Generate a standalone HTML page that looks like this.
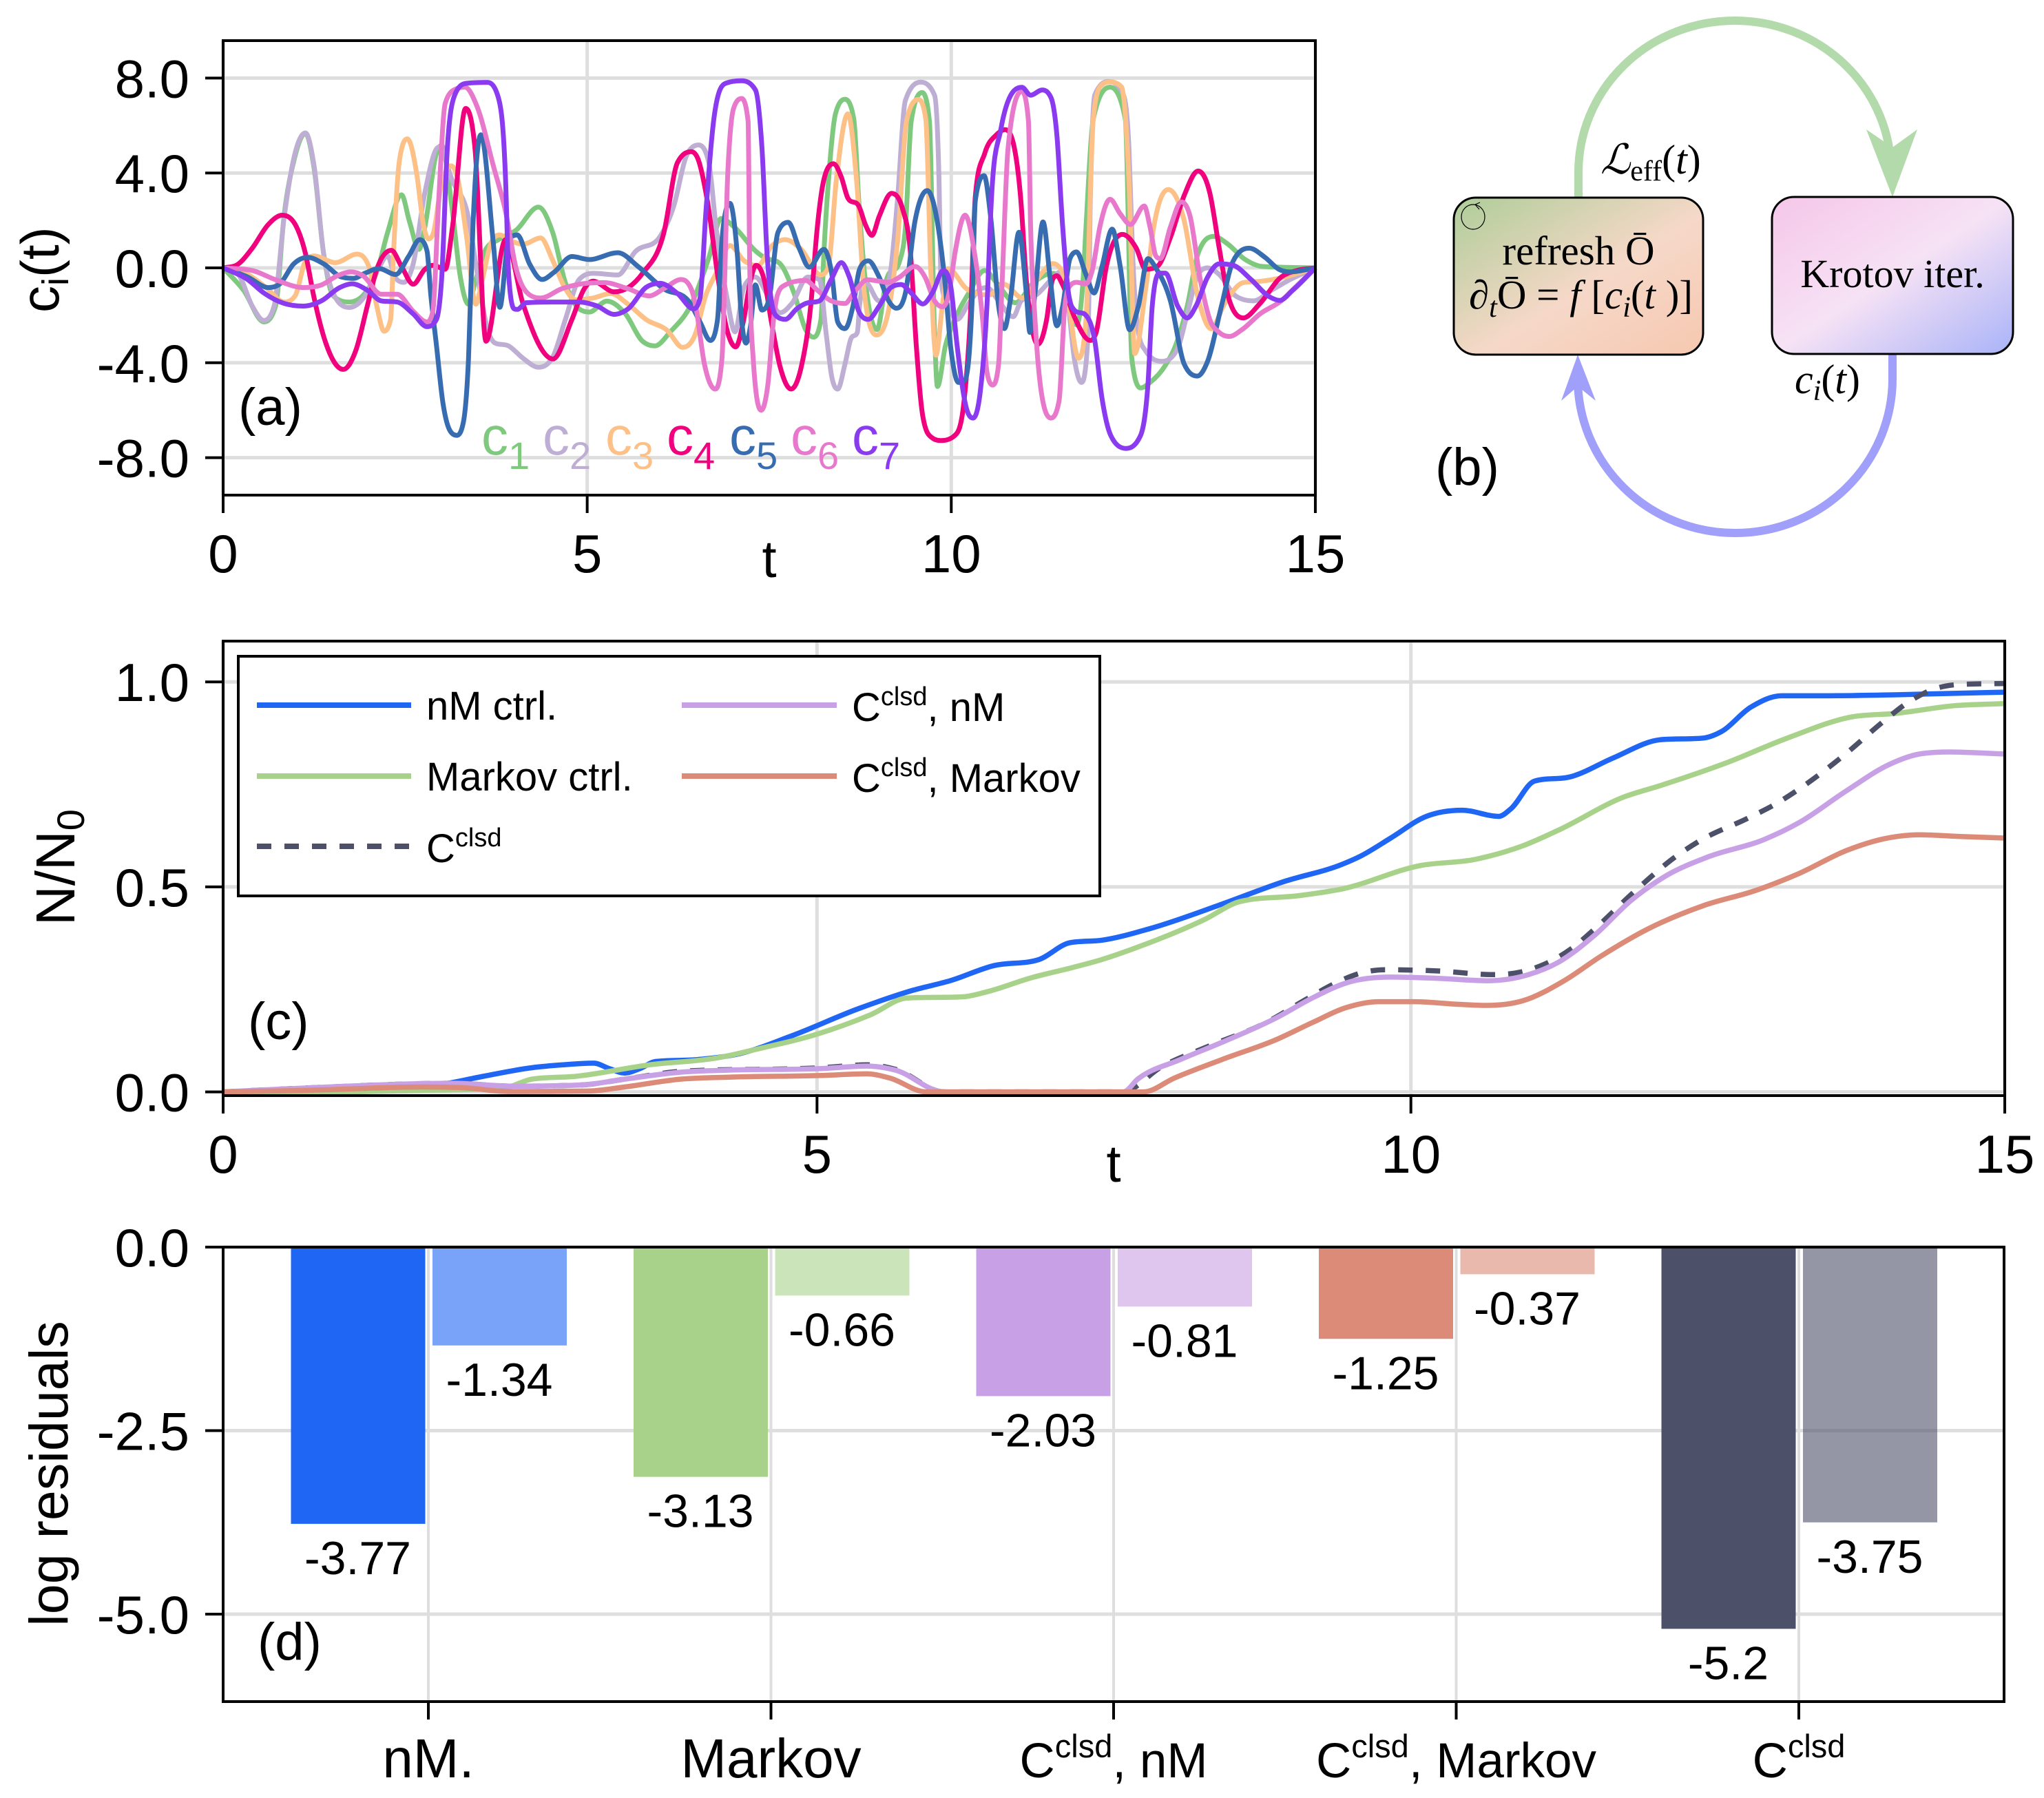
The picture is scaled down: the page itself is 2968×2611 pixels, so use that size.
<!DOCTYPE html>
<html lang="en">
<head>
<meta charset="utf-8">
<title>Control pulses, populations and residuals</title>
<style>
html,body{margin:0;padding:0;background:#fff}
svg{display:block}
text{font-family:"Liberation Sans",sans-serif;fill:#000}
.serif{font-family:"Liberation Serif",serif}
</style>
</head>
<body>
<svg id="fig" xmlns="http://www.w3.org/2000/svg" width="2968" height="2611" viewBox="0 0 2968 2611">
  <defs>
    <linearGradient id="gradLeft" x1="0" y1="0" x2="1" y2="1">
      <stop offset="0" stop-color="#AECD98"/><stop offset="0.55" stop-color="#F6D8C8"/><stop offset="1" stop-color="#F6C8B0"/>
    </linearGradient>
    <linearGradient id="gradRight" x1="0" y1="0" x2="1" y2="1">
      <stop offset="0" stop-color="#F5C6E9"/><stop offset="0.5" stop-color="#F6E2F5"/><stop offset="1" stop-color="#A9B3F8"/>
    </linearGradient>
  </defs>
  <rect x="0" y="0" width="2968" height="2611" fill="#fff"/>
  <g id="gridLayer"></g>
  <g id="markLayer"></g>
  <g id="axisLayer"></g>

  <!-- panel a labels -->
  <text x="346" y="617" font-size="76">(a)</text>
  <text x="1117" y="838" font-size="76" text-anchor="middle">t</text>
  <text transform="translate(85,454) rotate(-90)" font-size="78">c<tspan font-size="54" dy="14">i</tspan><tspan dy="-14">(t)</tspan></text>
  <g font-size="78">
    <text x="699" y="660" style="fill:#7FC97F">c<tspan font-size="56" dy="21">1</tspan></text>
    <text x="788" y="660" style="fill:#BEAED4">c<tspan font-size="56" dy="21">2</tspan></text>
    <text x="879" y="660" style="fill:#FDC086">c<tspan font-size="56" dy="21">3</tspan></text>
    <text x="968" y="660" style="fill:#F0027F">c<tspan font-size="56" dy="21">4</tspan></text>
    <text x="1059" y="660" style="fill:#386CB0">c<tspan font-size="56" dy="21">5</tspan></text>
    <text x="1148" y="660" style="fill:#E878CC">c<tspan font-size="56" dy="21">6</tspan></text>
    <text x="1237" y="660" style="fill:#8A3BF0">c<tspan font-size="56" dy="21">7</tspan></text>
  </g>

  <!-- panel b diagram -->
  <g>
    <path d="M2292 287 L2292 250 A227 220 0 0 1 2746 250" fill="none" stroke="#B3DAAA" stroke-width="12"/>
    <polygon points="2748,286 2784,188 2748,214 2710,188" fill="#B3DAAA"/>
    <path d="M2748 514 L2748 550 A228.5 224 0 0 1 2291 550" fill="none" stroke="#A0A0FB" stroke-width="12"/>
    <polygon points="2291,515 2317,582 2291,561 2267,582" fill="#A0A0FB"/>
    <rect x="2111" y="287" width="362" height="228" rx="32" ry="32" fill="url(#gradLeft)" stroke="#000" stroke-width="3"/>
    <rect x="2573" y="286" width="350" height="228" rx="32" ry="32" fill="url(#gradRight)" stroke="#000" stroke-width="3"/>
    <ellipse cx="2139" cy="315" rx="17" ry="18" fill="none" stroke="#000" stroke-width="1.2"/>
    <path d="M2142 297 L2149 294 M2142 297 L2148 304" fill="none" stroke="#000" stroke-width="1.2"/>
    <text class="serif" x="2292" y="384" font-size="59" text-anchor="middle">refresh Ō</text>
    <text class="serif" x="2133" y="448" font-size="59"><tspan font-style="italic">∂</tspan><tspan font-style="italic" font-size="42" dy="12">t</tspan><tspan dy="-12">Ō = </tspan><tspan font-style="italic">f</tspan><tspan> [</tspan><tspan font-style="italic">c</tspan><tspan font-style="italic" font-size="42" dy="12">i</tspan><tspan dy="-12">(</tspan><tspan font-style="italic">t</tspan><tspan> )]</tspan></text>
    <text class="serif" x="2748" y="417" font-size="58" text-anchor="middle">Krotov iter.</text>
    <text class="serif" x="2324" y="252" font-size="60"><tspan font-style="italic">ℒ</tspan><tspan font-size="42" dy="10">eff</tspan><tspan dy="-10">(</tspan><tspan font-style="italic">t</tspan><tspan>)</tspan></text>
    <text class="serif" x="2606" y="571" font-size="60"><tspan font-style="italic">c</tspan><tspan font-style="italic" font-size="42" dy="10">i</tspan><tspan dy="-10">(</tspan><tspan font-style="italic">t</tspan><tspan>)</tspan></text>
    <text x="2084" y="704" font-size="76">(b)</text>
  </g>

  <!-- panel c labels -->
  <text x="360" y="1509" font-size="76">(c)</text>
  <text x="1617" y="1716" font-size="76" text-anchor="middle">t</text>
  <text transform="translate(108,1344) rotate(-90)" font-size="80">N/N<tspan font-size="56" dy="14">0</tspan></text>

  <!-- legend -->
  <g>
    <rect x="346" y="953" width="1251" height="348" fill="#fff" stroke="#000" stroke-width="4"/>
    <line x1="373" y1="1024" x2="597" y2="1024" stroke="#1F66F5" stroke-width="8"/>
    <text x="619" y="1045" font-size="58">nM ctrl.</text>
    <line x1="373" y1="1127" x2="597" y2="1127" stroke="#A8D28A" stroke-width="8"/>
    <text x="619" y="1148" font-size="58">Markov ctrl.</text>
    <line x1="373" y1="1229" x2="597" y2="1229" stroke="#4C5069" stroke-width="8" stroke-dasharray="21 19"/>
    <text x="619" y="1252" font-size="58">C<tspan font-size="38" dy="-23">clsd</tspan></text>
    <line x1="990" y1="1024" x2="1215" y2="1024" stroke="#C8A0E5" stroke-width="8"/>
    <text x="1237" y="1047" font-size="58">C<tspan font-size="38" dy="-23">clsd</tspan><tspan dy="23">, nM</tspan></text>
    <line x1="990" y1="1127" x2="1215" y2="1127" stroke="#DB8B78" stroke-width="8"/>
    <text x="1237" y="1150" font-size="58">C<tspan font-size="38" dy="-23">clsd</tspan><tspan dy="23">, Markov</tspan></text>
  </g>

  <!-- panel d labels -->
  <text x="374" y="2410" font-size="76">(d)</text>
  <text transform="translate(98,2140) rotate(-90)" font-size="79" text-anchor="middle">log residuals</text>
</svg>
<script>
// ---------- panel (a): control pulses, [t, c(t)] ----------
const c1Points=[[0,0],[.28,-.94],[.56,-2.28],[.72,-1.61],[.84,2.28],[.97,4.5],[1.13,5.67],[1.25,4.17],[1.38,.61],[1.51,-1.17],[1.73,-1.44],[1.95,-1.06],[2.11,-.17],[2.26,1.5],[2.45,3.08],[2.56,1.94],[2.69,.78],[2.77,1.72],[2.93,4.83],[3.0,5.17],[3.15,2.36],[3.25,-.23],[3.37,-1.53],[3.47,-.49],[3.59,.68],[3.78,1.19],[4.02,1.58],[4.33,2.56],[4.53,1.45],[4.7,-.62],[4.89,-1.73],[5.03,-1.86],[5.27,-1.4],[5.52,-1.92],[5.76,-3.09],[5.93,-3.29],[6.14,-2.7],[6.43,-1.53],[6.67,.42],[6.84,2.08],[7.02,1.72],[7.31,.72],[7.43,.44],[7.65,.17],[7.84,-1.06],[8.0,-2.6],[8.11,-2.92],[8.21,-2.17],[8.25,.6],[8.32,3.94],[8.41,6.5],[8.54,7.11],[8.66,6.3],[8.73,2.83],[8.79,.39],[8.98,-2.6],[9.11,-.5],[9.29,.28],[9.37,1.7],[9.45,6.17],[9.6,7.39],[9.7,6.17],[9.77,-2.72],[9.81,-5.0],[9.92,-3.28],[10.05,-2.17],[10.24,-1.06],[10.46,-.11],[10.62,-.62],[10.88,-1.47],[11.13,-.62],[11.39,-.23],[11.6,-1.01],[11.72,-2.4],[11.81,-.5],[11.85,1.72],[11.95,6.26],[12.18,7.62],[12.39,6.26],[12.48,-3.83],[12.6,-5.06],[12.73,-4.83],[12.95,-4.06],[13.08,-3.28],[13.24,-1.61],[13.39,.61],[13.6,1.33],[13.8,1.0],[14.02,.39],[14.27,.06],[14.52,.03],[15,0]];
const c2Points=[[0,0],[.21,-.28],[.4,-1.61],[.56,-2.22],[.7,-1.61],[.84,2.17],[.97,4.61],[1.13,5.69],[1.25,4.28],[1.38,.61],[1.51,-1.06],[1.73,-1.67],[1.95,-1.17],[2.11,-.17],[2.26,.5],[2.36,-.39],[2.48,-.61],[2.61,.17],[2.77,3.17],[2.96,5.09],[3.15,3.66],[3.37,2.1],[3.49,-.23],[3.63,-2.57],[3.73,-3.16],[3.92,-3.29],[4.12,-3.81],[4.33,-4.19],[4.53,-3.74],[4.7,-2.18],[4.89,-.49],[5.08,-.23],[5.42,-.3],[5.66,.68],[6.0,1.32],[6.19,2.62],[6.36,4.7],[6.53,5.18],[6.67,4.44],[6.77,1.71],[6.92,-1.27],[7.03,-2.7],[7.15,-.83],[7.31,-.39],[7.5,-1.28],[7.65,-1.89],[7.81,-1.5],[8.03,-.39],[8.19,-.5],[8.28,-2.72],[8.36,-4.61],[8.44,-5.11],[8.54,-4.06],[8.62,-3.0],[8.71,-2.72],[8.74,-1.61],[8.82,-.61],[9.01,-1.39],[9.17,-.06],[9.26,2.83],[9.37,7.06],[9.58,7.83],[9.77,7.28],[9.83,3.94],[9.86,-.5],[9.96,-1.61],[10.08,-2.17],[10.24,-1.5],[10.4,-.89],[10.49,-.83],[10.65,-1.39],[10.85,-2.06],[10.96,-1.39],[11.18,-1.11],[11.37,-.5],[11.5,-.17],[11.6,-1.39],[11.69,-3.83],[11.79,-4.83],[11.88,-2.72],[11.91,2.83],[11.97,7.28],[12.16,7.86],[12.35,7.39],[12.44,5.06],[12.49,.61],[12.56,-2.5],[12.67,-3.5],[12.89,-3.94],[13.11,-3.39],[13.24,-1.94],[13.39,-.28],[13.52,0],[13.68,-.28],[13.9,-1.17],[14.15,-1.39],[14.4,-.94],[14.65,-.5],[15,0]];
const c3Points=[[0,0],[.34,-.28],[.59,-.83],[.84,-1.44],[.99,-1.17],[1.13,.28],[1.25,.5],[1.54,.22],[1.84,.58],[2.0,.06],[2.11,-1.61],[2.21,-2.67],[2.3,-2.17],[2.34,.61],[2.42,4.5],[2.53,5.44],[2.66,3.94],[2.75,1.83],[2.82,1.22],[2.89,1.5],[2.99,3.39],[3.13,4.3],[3.21,3.9],[3.34,1.4],[3.47,-1.53],[3.56,-.49],[3.68,1.06],[3.8,1.39],[3.92,1.19],[4.12,1.0],[4.36,1.26],[4.53,.29],[4.7,-.88],[4.84,-1.34],[5.08,-1.27],[5.32,-1.08],[5.56,-1.53],[5.81,-2.18],[6.1,-2.64],[6.31,-3.35],[6.48,-2.83],[6.63,-1.14],[6.77,-.23],[6.96,.94],[7.16,.29],[7.34,.09],[7.54,.94],[7.72,1.19],[7.93,.81],[8.21,-.3],[8.31,.03],[8.42,3.66],[8.58,6.49],[8.7,3.66],[8.8,-.88],[8.97,-2.83],[9.13,-1.92],[9.26,1.06],[9.39,6.26],[9.55,7.1],[9.65,6.26],[9.72,-.23],[9.79,-3.68],[9.88,-1.53],[9.96,-.04],[10.21,-.88],[10.52,-1.14],[10.72,-.69],[10.98,-1.27],[11.24,-.23],[11.39,.18],[11.55,-.36],[11.75,-3.81],[11.85,-2.18],[11.95,6.26],[12.06,7.69],[12.18,7.84],[12.34,7.62],[12.44,3.66],[12.52,-3.61],[12.67,-.88],[12.78,1.71],[12.98,3.3],[13.19,2.1],[13.39,-1.27],[13.57,-2.57],[13.75,-1.53],[14.01,-.62],[14.26,-.56],[14.52,-.43],[15,0]];
const c4Points=[[0,0],[.18,.11],[.4,.83],[.62,1.83],[.81,2.22],[.99,1.83],[1.13,.61],[1.25,-1.28],[1.41,-3.17],[1.65,-4.28],[1.82,-3.5],[1.98,-1.61],[2.11,-.06],[2.31,.74],[2.45,.06],[2.61,-.69],[2.77,-.06],[2.88,.11],[3.05,-.06],[3.15,1.72],[3.33,6.72],[3.46,5.0],[3.61,-3.09],[3.88,1.19],[4.12,-1.53],[4.53,-3.84],[4.79,-2.18],[4.96,-.88],[5.08,-.56],[5.37,-1.01],[5.76,-.23],[6.05,1.45],[6.24,4.44],[6.43,4.9],[6.52,4.6],[6.65,2.83],[6.8,-.5],[6.91,-2.5],[7.04,-3.33],[7.15,-2.17],[7.23,-.72],[7.32,.11],[7.43,-.5],[7.53,-2.28],[7.65,-4.17],[7.8,-5.11],[7.94,-4.17],[8.07,-1.6],[8.16,1.72],[8.25,3.72],[8.38,4.39],[8.49,3.83],[8.58,2.94],[8.73,2.61],[8.82,1.83],[8.91,1.37],[9.01,2.17],[9.18,3.14],[9.33,2.5],[9.44,.61],[9.52,-3.28],[9.61,-6.28],[9.74,-7.17],[9.86,-7.28],[10.05,-7.06],[10.18,-5.5],[10.27,-1.6],[10.33,3.0],[10.46,4.83],[10.62,5.61],[10.74,5.83],[10.85,5.28],[10.95,3.06],[11.03,-.5],[11.19,-3.22],[11.31,-2.17],[11.39,-.5],[11.45,-.33],[11.53,-.72],[11.69,-2.06],[11.91,-3.06],[11.99,-2.72],[12.13,.06],[12.35,1.41],[12.54,.83],[12.67,-.06],[12.83,.06],[13.01,1.28],[13.2,3.06],[13.39,4.08],[13.55,3.17],[13.68,.83],[13.8,-1.17],[14.01,-2.11],[14.24,-1.5],[14.53,-.39],[14.75,-.11],[15,0]];
const c5Points=[[0,0],[.34,-.39],[.62,-.83],[.78,-.67],[.97,.17],[1.16,.44],[1.38,.17],[1.63,-.39],[1.79,-.44],[1.95,-.22],[2.14,-.03],[2.37,-.28],[2.55,.5],[2.7,1.19],[2.8,.72],[2.85,-1.06],[2.93,-3.28],[3.02,-5.72],[3.11,-6.83],[3.21,-7.06],[3.3,-6.5],[3.37,-3.83],[3.43,1.72],[3.54,5.61],[3.71,1.06],[3.8,-1.66],[3.92,1.19],[4.04,1.39],[4.21,.16],[4.38,-.49],[4.55,-.17],[4.79,.48],[5.03,.35],[5.42,.64],[5.71,.03],[6.05,-.88],[6.39,-1.39],[6.55,-2.28],[6.69,-3.06],[6.79,-2.17],[6.85,1.17],[6.96,2.72],[7.06,.61],[7.12,-2.17],[7.18,-3.17],[7.24,-2.5],[7.31,-.72],[7.4,-1.78],[7.5,-1.28],[7.62,1.5],[7.76,1.92],[7.91,.83],[8.05,.03],[8.25,.78],[8.36,-.28],[8.44,-2.28],[8.54,-2.56],[8.65,-1.61],[8.74,-.06],[8.86,.3],[9.01,-.39],[9.14,-1.39],[9.25,-1.7],[9.37,-1.06],[9.5,1.94],[9.67,3.26],[9.82,1.72],[9.91,-.5],[9.99,-3.28],[10.1,-4.83],[10.19,-4.72],[10.29,-1.06],[10.33,2.83],[10.45,3.89],[10.54,2.17],[10.65,-1.6],[10.73,-2.56],[10.81,-1.39],[10.93,1.5],[11.03,-1.06],[11.08,-2.72],[11.15,-1.06],[11.26,1.94],[11.36,-.5],[11.45,-2.44],[11.53,-1.61],[11.63,.39],[11.72,.67],[11.85,-.28],[11.96,-1.06],[12.07,.06],[12.21,1.63],[12.32,.06],[12.45,-2.61],[12.57,-1.61],[12.7,.39],[12.82,-.06],[13.01,-1.39],[13.2,-4.06],[13.38,-4.56],[13.52,-3.94],[13.71,-1.61],[13.87,.28],[14.09,.83],[14.31,.44],[14.5,-.06],[14.65,-.17],[15,0]];
const c6Points=[[0,0],[.4,-.11],[.72,-.5],[1.1,-.83],[1.35,-.72],[1.57,-.33],[1.76,-.17],[1.92,-.33],[2.17,-1.11],[2.39,-1.11],[2.61,-1.83],[2.8,-2.28],[2.88,-1.83],[2.96,2.83],[3.05,6.94],[3.21,7.56],[3.32,7.62],[3.49,6.78],[3.71,4.31],[3.88,2.36],[4.02,.03],[4.21,-1.14],[4.36,-1.27],[4.65,-.88],[4.89,-.69],[5.23,-.62],[5.56,-.88],[5.85,-1.18],[6.05,-.88],[6.29,-.49],[6.43,-.9],[6.49,-1.61],[6.61,-4.06],[6.76,-5.11],[6.85,-3.83],[6.93,3.94],[7.01,6.72],[7.12,7.14],[7.21,6.17],[7.23,.61],[7.28,-3.83],[7.39,-6.0],[7.48,-4.94],[7.56,-2.17],[7.61,-1.17],[7.72,-.72],[8.0,-.53],[8.16,-.94],[8.35,-1.39],[8.54,-1.5],[8.66,-1.06],[8.85,-.5],[9.14,-.61],[9.29,-.39],[9.5,.06],[9.64,-.39],[9.77,-1.39],[9.88,-1.64],[9.97,-1.06],[10.05,.61],[10.19,2.22],[10.32,.61],[10.43,-2.17],[10.49,-4.39],[10.57,-4.94],[10.65,-4.06],[10.7,-.5],[10.78,5.06],[10.97,7.44],[11.06,6.17],[11.09,1.72],[11.15,-2.17],[11.25,-5.5],[11.37,-6.33],[11.48,-5.61],[11.56,-1.61],[11.64,-.72],[11.72,-.61],[11.85,-.67],[11.94,-.06],[12.04,1.72],[12.18,2.89],[12.32,2.28],[12.46,1.83],[12.65,2.61],[12.73,1.72],[12.81,.5],[12.87,.39],[13.01,1.72],[13.16,2.78],[13.28,2.17],[13.42,-.5],[13.55,-2.17],[13.68,-2.72],[13.82,-2.89],[13.99,-2.61],[14.24,-1.94],[14.53,-1.39],[14.72,-.83],[15,0]];
const c7Points=[[0,0],[.34,-.5],[.56,-1.06],[.84,-1.5],[1.1,-1.61],[1.35,-1.39],[1.6,-.83],[1.77,-.67],[1.98,-.94],[2.17,-1.39],[2.39,-1.44],[2.61,-1.94],[2.8,-2.48],[2.93,-2.17],[3.0,-.5],[3.08,5.06],[3.18,7.28],[3.34,7.78],[3.63,7.82],[3.78,7.17],[3.88,3.66],[3.92,-.23],[4.0,-1.73],[4.04,-1.75],[4.16,-1.47],[4.5,-1.44],[4.89,-1.44],[5.13,-1.6],[5.37,-1.96],[5.56,-1.73],[5.81,-.82],[6.0,-.65],[6.24,-1.08],[6.46,-1.73],[6.55,-1.27],[6.63,2.36],[6.75,6.52],[6.9,7.78],[7.12,7.89],[7.31,7.5],[7.4,5.06],[7.47,.61],[7.53,-1.39],[7.61,-2.06],[7.72,-2.17],[7.88,-1.72],[8.0,-1.5],[8.19,-1.39],[8.35,-.5],[8.49,.22],[8.6,-.39],[8.73,-1.83],[8.86,-2.17],[9.01,-1.61],[9.17,-.83],[9.31,-.7],[9.45,-1.06],[9.61,-1.52],[9.74,-1.06],[9.89,-.11],[9.99,-.72],[10.08,-3.28],[10.21,-5.94],[10.3,-6.33],[10.4,-5.17],[10.49,-1.61],[10.55,2.83],[10.68,5.83],[10.84,7.39],[10.97,7.61],[11.09,7.28],[11.25,7.5],[11.37,7.17],[11.45,5.61],[11.53,1.72],[11.61,-1.06],[11.69,-1.78],[11.85,-2.0],[11.97,-3.06],[12.07,-5.5],[12.19,-7.06],[12.4,-7.61],[12.6,-7.06],[12.7,-4.94],[12.76,-1.61],[12.86,-.22],[12.94,-.22],[13.11,-1.61],[13.24,-2.11],[13.36,-1.61],[13.52,-.39],[13.68,.17],[13.87,.11],[14.12,-.5],[14.37,-1.22],[14.51,-1.37],[14.69,-.94],[15,0]];
const pulseNames=['c1','c2','c3','c4','c5','c6','c7'];
const pulseSeries=[c1Points,c2Points,c3Points,c4Points,c5Points,c6Points,c7Points];
const pulseXTicks=[0,5,10,15];
const pulseYTicks=[8,4,0,-4,-8];
const pulseYTickLabels=['8.0','4.0','0.0','-4.0','-8.0'];

// ---------- panel (c): population, [t, N/N0] ----------
const nmCtrlPoints=[[0,0],[.64,.003],[1.41,.01],[1.83,.018],[2.19,.038],[2.6,.059],[2.86,.066],[3.12,.07],[3.25,.057],[3.38,.046],[3.51,.057],[3.64,.074],[4.0,.079],[4.36,.094],[4.78,.136],[5.35,.203],[5.81,.248],[6.12,.271],[6.49,.308],[6.87,.323],[7.13,.364],[7.4,.37],[7.8,.398],[8.41,.458],[8.92,.512],[9.42,.555],[9.57,.574],[9.83,.619],[10.13,.672],[10.43,.687],[10.74,.672],[10.84,.69],[11.04,.758],[11.35,.769],[11.7,.814],[12.1,.859],[12.46,.863],[12.61,.878],[12.86,.938],[13.12,.966],[13.47,.966],[14.13,.969],[15,.975]];
const markovCtrlPoints=[[0,0],[.9,0],[1.67,.004],[2.34,.008],[2.6,.031],[2.97,.038],[3.59,.066],[4.16,.083],[4.52,.106],[4.98,.139],[5.45,.188],[5.76,.229],[6.23,.232],[6.43,.244],[6.8,.278],[7.16,.304],[7.4,.323],[7.7,.353],[8.26,.42],[8.56,.464],[9.07,.479],[9.42,.495],[10.08,.552],[10.54,.567],[10.94,.6],[11.24,.638],[11.8,.72],[12.1,.747],[12.66,.803],[13.17,.863],[13.72,.915],[14.08,.923],[14.58,.942],[15,.947]];
const closedPoints=[[0,0],[.74,.01],[1.93,.021],[2.45,.014],[3.02,.017],[3.38,.031],[3.85,.05],[5.04,.059],[5.42,.066],[5.66,.055],[6.07,0],[7.57,0],[7.9,.061],[8.31,.113],[8.76,.166],[9.12,.226],[9.35,.263],[9.57,.289],[9.78,.298],[10.23,.295],[10.69,.286],[10.99,.297],[11.35,.349],[11.55,.398],[11.88,.488],[12.23,.574],[12.43,.612],[12.84,.668],[13.07,.702],[13.27,.739],[13.65,.822],[13.98,.904],[14.18,.949],[14.41,.983],[14.63,.994],[15,.996]];
const closedNmPoints=[[0,0],[.74,.01],[1.93,.021],[2.45,.014],[3.02,.017],[3.38,.031],[3.85,.048],[4.26,.053],[5.04,.057],[5.42,.063],[5.66,.053],[6.07,0],[7.58,0],[7.7,.031],[8.06,.079],[8.41,.121],[8.87,.181],[9.17,.229],[9.47,.267],[9.83,.28],[10.23,.277],[10.64,.271],[10.99,.286],[11.24,.316],[11.55,.383],[11.85,.466],[12.16,.529],[12.51,.574],[12.97,.615],[13.27,.657],[13.67,.735],[14.03,.799],[14.28,.824],[14.53,.829],[15,.824]];
const closedMarkovPoints=[[0,0],[.74,.004],[1.67,.012],[2.03,.01],[2.4,.001],[3.07,.002],[3.38,.012],[3.85,.031],[4.26,.036],[5.04,.04],[5.42,.044],[5.61,.034],[5.92,0],[7.75,0],[8.01,.034],[8.41,.079],[8.87,.128],[9.17,.169],[9.47,.207],[9.73,.22],[10.03,.22],[10.38,.214],[10.64,.211],[10.94,.222],[11.29,.271],[11.6,.331],[12.0,.398],[12.46,.454],[12.91,.492],[13.27,.533],[13.67,.589],[13.98,.617],[14.28,.627],[14.63,.623],[15,.619]];
const popXTicks=[0,5,10,15];
const popYTicks=[1,.5,0];
const popYTickLabels=['1.0','0.5','0.0'];

// ---------- panel (d): residual bars ----------
const residualCategories=['nM.','Markov','Cclsd, nM','Cclsd, Markov','Cclsd'];
const residualFirst=[-3.77,-3.13,-2.03,-1.25,-5.2];
const residualSecond=[-1.34,-.66,-.81,-.37,-3.75];
const residualYTicks=[0,-2.5,-5];
const residualYTickLabels=['0.0','-2.5','-5.0'];

// ---------- axis functions ----------
const xA=t=>324+105.73*t;
const yA=v=>389-34.45*v;
const xC=t=>324+172.47*t;
const yC=v=>1585.6-595.4*v;
const xD=i=>622+497.5*i;
const yD=v=>1811-106.6*v;

const NS='http://www.w3.org/2000/svg';
const gridLayer=document.getElementById('gridLayer');
const markLayer=document.getElementById('markLayer');
const axisLayer=document.getElementById('axisLayer');
function mk(tag,parent){const el=document.createElementNS(NS,tag);parent.appendChild(el);return el;}
function setLine(el,x1,y1,x2,y2,color,w){el.setAttribute('x1',x1);el.setAttribute('y1',y1);el.setAttribute('x2',x2);el.setAttribute('y2',y2);el.setAttribute('stroke',color);el.setAttribute('stroke-width',w);}
function setText(el,x,y,size,anchor,str){el.setAttribute('x',x);el.setAttribute('y',y);el.setAttribute('font-size',size);el.setAttribute('text-anchor',anchor);el.textContent=str;}
// shape-preserving cubic: weighted central slopes, zero at extrema, clamped against overshoot
function smoothPath(pts){
  const n=pts.length,m=[],s=[];
  for(let i=0;i<n-1;i++){s[i]=(pts[i+1][1]-pts[i][1])/(pts[i+1][0]-pts[i][0]);}
  m[0]=s[0];m[n-1]=s[n-2];
  for(let i=1;i<n-1;i++){
    if(s[i-1]*s[i]<=0){m[i]=0;}
    else{
      const h0=pts[i][0]-pts[i-1][0],h1=pts[i+1][0]-pts[i][0];
      const c=(h1*s[i-1]+h0*s[i])/(h0+h1);
      const lim=2.5*Math.min(Math.abs(s[i-1]),Math.abs(s[i]));
      m[i]=Math.sign(c)*Math.min(Math.abs(c),lim);
    }
  }
  let d='M'+pts[0][0].toFixed(1)+' '+pts[0][1].toFixed(1);
  for(let i=0;i<n-1;i++){
    const h=(pts[i+1][0]-pts[i][0])/3;
    d+='C'+(pts[i][0]+h).toFixed(1)+' '+(pts[i][1]+m[i]*h).toFixed(1)+' '+(pts[i+1][0]-h).toFixed(1)+' '+(pts[i+1][1]-m[i+1]*h).toFixed(1)+' '+pts[i+1][0].toFixed(1)+' '+pts[i+1][1].toFixed(1);
  }
  return d;
}
const GRID='#DEDEDE';

// ---------- panel (a) ----------
pulseYTicks.forEach((v,i)=>{
  const g=mk('line',gridLayer);
  
  
  setLine(g,324,yA(v),1910,yA(v),GRID,5);
  const tk=mk('line',axisLayer);
  
  
  setLine(tk,298,yA(v),324,yA(v),'#000',4);
  const lb=mk('text',axisLayer);
  
  
  setText(lb,275,yA(v)+28,78,'end',pulseYTickLabels[i]);
});
pulseXTicks.forEach(t=>{
  const g=mk('line',gridLayer);
  
  
  setLine(g,xA(t),59,xA(t),719,GRID,5);
  const tk=mk('line',axisLayer);
  
  
  setLine(tk,xA(t),719,xA(t),745,'#000',4);
  const lb=mk('text',axisLayer);
  
  
  setText(lb,xA(t),831,78,'middle',String(t));
});
const pulseColors=['#7FC97F','#BEAED4','#FDC086','#F0027F','#386CB0','#E878CC','#8A3BF0'];
pulseSeries.forEach((series,i)=>{
  const p=mk('path',markLayer);
  
  
  p.setAttribute('d',smoothPath(series.map(d=>[xA(d[0]),yA(d[1])])));
  p.setAttribute('fill','none');
  p.setAttribute('stroke',pulseColors[i]);
  p.setAttribute('stroke-width',7);
  p.setAttribute('stroke-linejoin','round');
});
const frameA=mk('rect',axisLayer);


frameA.setAttribute('x',324);frameA.setAttribute('y',59);frameA.setAttribute('width',1586);frameA.setAttribute('height',660);
frameA.setAttribute('fill','none');frameA.setAttribute('stroke','#000');frameA.setAttribute('stroke-width',4);

// ---------- panel (c) ----------
popYTicks.forEach((v,i)=>{
  const g=mk('line',gridLayer);
  
  
  setLine(g,324,yC(v),2911,yC(v),GRID,5);
  const tk=mk('line',axisLayer);
  
  
  setLine(tk,298,yC(v),324,yC(v),'#000',4);
  const lb=mk('text',axisLayer);
  
  
  setText(lb,275,yC(v)+28,78,'end',popYTickLabels[i]);
});
popXTicks.forEach(t=>{
  const g=mk('line',gridLayer);
  
  
  setLine(g,xC(t),931,xC(t),1591,GRID,5);
  const tk=mk('line',axisLayer);
  
  
  setLine(tk,xC(t),1591,xC(t),1617,'#000',4);
  const lb=mk('text',axisLayer);
  
  
  setText(lb,xC(t),1703,78,'middle',String(t));
});
const popSeries=[nmCtrlPoints,markovCtrlPoints,closedPoints,closedNmPoints,closedMarkovPoints];
const popNames=['nm-ctrl','markov-ctrl','closed','closed-nm','closed-markov'];
const popColors=['#1F66F5','#A8D28A','#4C5069','#C8A0E5','#DB8B78'];
popSeries.forEach((series,i)=>{
  const p=mk('path',markLayer);
  
  
  p.setAttribute('d',smoothPath(series.map(d=>[xC(d[0]),yC(d[1])])));
  p.setAttribute('fill','none');
  p.setAttribute('stroke',popColors[i]);
  p.setAttribute('stroke-width',7.5);
  if(i===2){p.setAttribute('stroke-dasharray','21 19');}
});
const frameC=mk('rect',axisLayer);


frameC.setAttribute('x',324);frameC.setAttribute('y',931);frameC.setAttribute('width',2587);frameC.setAttribute('height',660);
frameC.setAttribute('fill','none');frameC.setAttribute('stroke','#000');frameC.setAttribute('stroke-width',4);

// ---------- panel (d) ----------
const barColors=['#1F66F5','#A8D28A','#C8A0E5','#DB8B78','#4C5069'];
residualYTicks.forEach((v,i)=>{
  const g=mk('line',gridLayer);
  
  
  setLine(g,324,yD(v),2910,yD(v),GRID,5);
  const tk=mk('line',axisLayer);
  
  
  setLine(tk,298,yD(v),324,yD(v),'#000',4);
  const lb=mk('text',axisLayer);
  
  
  setText(lb,275,yD(v)+28,78,'end',residualYTickLabels[i]);
});
residualCategories.forEach((name,i)=>{
  const g=mk('line',gridLayer);
  
  
  setLine(g,xD(i),1811,xD(i),2471,GRID,4);
  const tk=mk('line',axisLayer);
  
  
  setLine(tk,xD(i),2471,xD(i),2497,'#000',4);
  const lb=mk('text',axisLayer);
  
  
  lb.setAttribute('x',xD(i));
  lb.setAttribute('y',2581);
  lb.setAttribute('text-anchor','middle');
  if(name.indexOf('Cclsd')===0){
    lb.setAttribute('font-size',71);
    lb.appendChild(document.createTextNode('C'));
    const sup=mk('tspan',lb);
    sup.setAttribute('font-size',47);
    sup.setAttribute('dy',-29);
    sup.textContent='clsd';
    const rest=name.slice(5);
    if(rest){
      const tail=mk('tspan',lb);
      tail.setAttribute('dy',29);
      tail.textContent=rest;
    }
  }else{
    lb.setAttribute('font-size',80);
    lb.textContent=name;
  }
  const offsets=[-102.5,103];
  [residualFirst[i],residualSecond[i]].forEach((val,j)=>{
    const b=mk('rect',markLayer);
    
    
    b.setAttribute('x',xD(i)+offsets[j]-97);
    b.setAttribute('y',yD(0));
    b.setAttribute('width',195);
    b.setAttribute('height',yD(val)-yD(0));
    b.setAttribute('fill',barColors[i]);
    b.setAttribute('fill-opacity',j===0?1:0.6);
    const t=mk('text',axisLayer);
    
    
    setText(t,xD(i)+offsets[j],yD(val)+73,68,'middle',String(val));
  });
});
const frameD=mk('rect',axisLayer);


frameD.setAttribute('x',324);frameD.setAttribute('y',1811);frameD.setAttribute('width',2586);frameD.setAttribute('height',660);
frameD.setAttribute('fill','none');frameD.setAttribute('stroke','#000');frameD.setAttribute('stroke-width',4);
</script>
</body>
</html>
